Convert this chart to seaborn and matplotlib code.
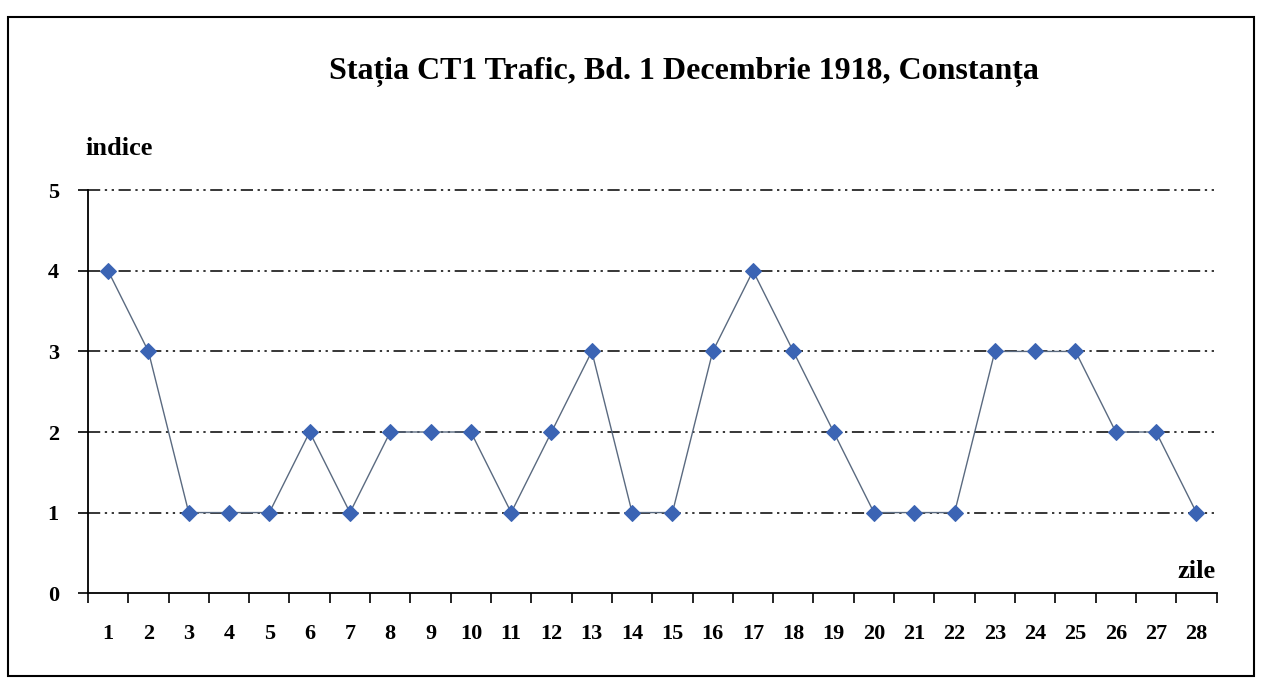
import matplotlib.pyplot as plt
import matplotlib.patches as patches
import seaborn as sns
import pandas as pd

# date
zile = list(range(1, 29))
indice = [4, 3, 1, 1, 1, 2, 1, 2, 2, 2, 1, 2, 3, 1, 1, 3, 4, 3, 2, 1, 1, 1, 3, 3, 3, 2, 2, 1]

df = pd.DataFrame({'pos': range(len(zile)), 'indice': indice})

sns.set_style('white')
plt.rcParams['font.family'] = ['Liberation Serif', 'DejaVu Serif']
plt.rcParams['text.color'] = 'black'
plt.rcParams['xtick.color'] = 'black'
plt.rcParams['ytick.color'] = 'black'

fig = plt.figure(figsize=(12.62, 6.97), dpi=100)
ax = fig.add_axes([0.0697, 0.149, 0.8943, 0.578])

# chenar exterior
fig.patches.append(patches.Rectangle((0.006, 0.03), 0.988, 0.945, transform=fig.transFigure,
                                     fill=False, edgecolor='black', linewidth=1.5))

# linii de grila (linie-punct-punct)
for y in range(1, 6):
    ax.axhline(y, color='black', linewidth=1.1, dashes=(8, 3, 1.5, 3, 1.5, 3), zorder=1, clip_on=False)

sns.lineplot(data=df, x='pos', y='indice', ax=ax, color='#5a6a80', linewidth=1,
             marker='D', markersize=8, markerfacecolor='#3b64b4', markeredgecolor='#3b64b4', zorder=3)

ax.set_xlim(-0.5, len(zile) - 0.5)
ax.set_ylim(0, 5)

ax.set_xticks([i - 0.5 for i in range(len(zile) + 1)])
ax.set_xticklabels([])
ax.set_xticks(range(len(zile)), minor=True)
ax.set_xticklabels([str(z) for z in zile], minor=True, fontsize=16, fontweight='bold')
ax.tick_params(axis='x', which='major', direction='out', length=7, width=1.2, bottom=True)
ax.tick_params(axis='x', which='minor', length=0, pad=22)

ax.set_yticks(range(6))
ax.set_yticklabels([str(v) for v in range(6)], fontsize=16, fontweight='bold')
ax.tick_params(axis='y', direction='out', length=7, width=1.2, left=True, pad=14)

for s in ['top', 'right']:
    ax.spines[s].set_visible(False)
for s in ['left', 'bottom']:
    ax.spines[s].set_color('black')
    ax.spines[s].set_linewidth(1.3)

ax.set_xlabel('')
ax.set_ylabel('')

fig.text(0.542, 0.897, 'Stația CT1 Trafic, Bd. 1 Decembrie 1918, Constanța',
         ha='center', va='center', fontsize=23, fontweight='bold')
fig.text(0.068, 0.787, 'indice', ha='left', va='center', fontsize=19, fontweight='bold')
fig.text(0.963, 0.18, 'zile', ha='right', va='center', fontsize=19, fontweight='bold')

fig.savefig('out.png', dpi=100)
